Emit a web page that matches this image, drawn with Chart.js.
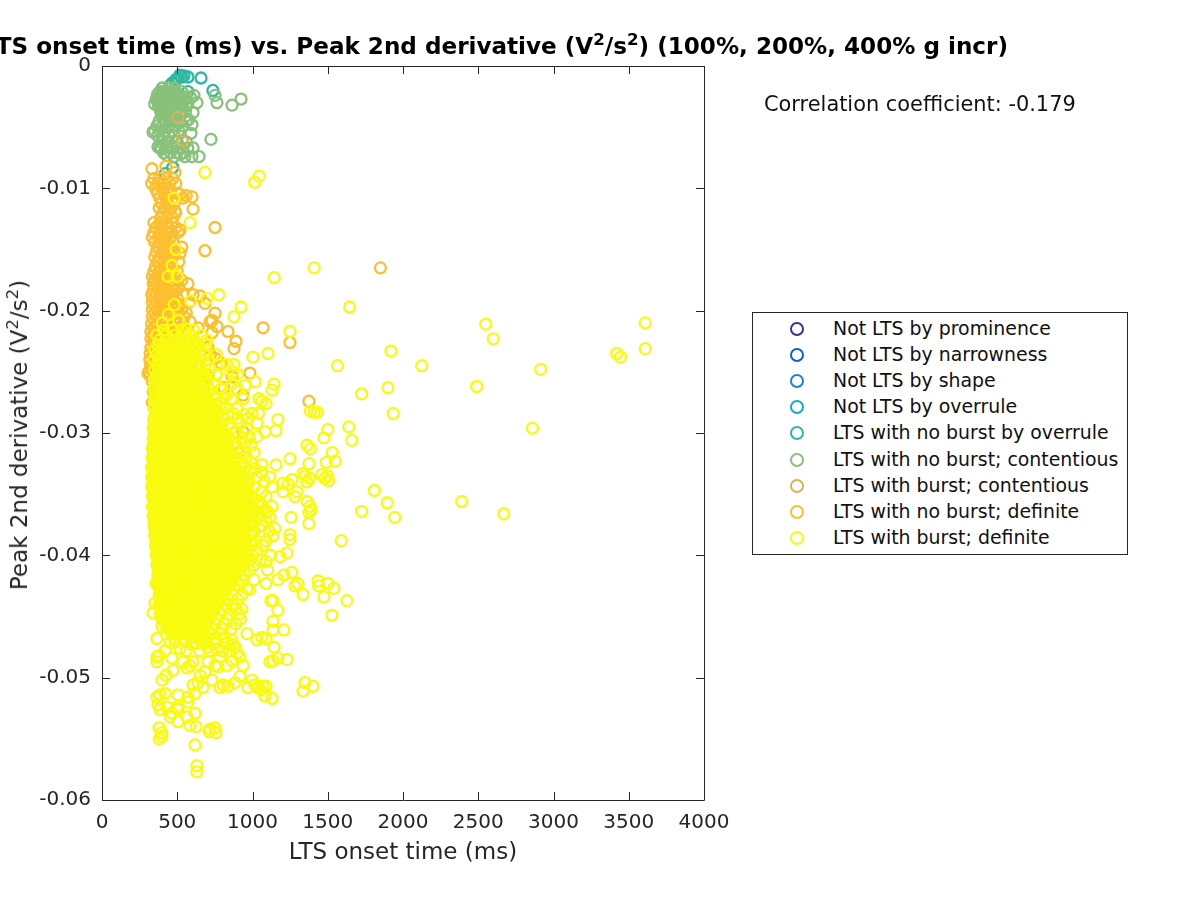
<!DOCTYPE html>
<html><head><meta charset="utf-8">
<script src="https://cdn.jsdelivr.net/npm/chart.js@4"></script>
<style>
html,body{margin:0;padding:0;background:#fff;width:1200px;height:900px;overflow:hidden;font-family:"DejaVu Sans",sans-serif;color:#000}
#wrap{position:relative;width:1200px;height:900px;overflow:hidden}
canvas{position:absolute;left:0;top:0}
.t{position:absolute;white-space:nowrap}
#title{right:192px;top:31px;font-size:23.1px;font-weight:bold;line-height:30px}
#ylab{left:19px;top:435px;font-size:23px;color:#262626;transform:translate(-50%,-50%) rotate(-90deg)}
#corr{left:764px;top:91px;font-size:20.9px;line-height:26px;color:#111}
sup{font-size:72%;line-height:0;vertical-align:baseline;position:relative;top:-0.55em}
#legend{position:absolute;left:752px;top:312px;width:374px;height:241px;border:1px solid #262626;background:#fff}
.row{position:absolute;left:0;height:26px;line-height:26px;font-size:18.9px;color:#111;white-space:nowrap}
.row i{position:absolute;left:37px;top:7px;width:10px;height:10px;border:2px solid;border-radius:50%;box-sizing:content-box}
.row span{position:absolute;left:80px}
</style></head><body>
<div id="wrap">
<canvas id="c" width="1200" height="900" style="width:1200px;height:900px"></canvas>
<div class="t" id="title">LTS onset time (ms) vs. Peak 2nd derivative (V<sup>2</sup>/s<sup>2</sup>) (100%, 200%, 400% g incr)</div>
<div class="t" id="ylab">Peak 2nd derivative (V<sup>2</sup>/s<sup>2</sup>)</div>
<div class="t" id="corr">Correlation coefficient: -0.179</div>
<div id="legend"></div>
</div>
<script>
const categories=["Not LTS by prominence","Not LTS by narrowness","Not LTS by shape","Not LTS by overrule","LTS with no burst by overrule","LTS with no burst; contentious","LTS with burst; contentious","LTS with no burst; definite","LTS with burst; definite"];
const colors=["#3e2f8f","#0a5fdc","#1582dc","#0eaccc","#2db8a5","#88c27a","#d4b35a","#fdbf2f","#f9fb0e"];
const xTickValues=[0,500,1000,1500,2000,2500,3000,3500,4000];
const yTickLabels=["-0.06","-0.05","-0.04","-0.03","-0.02","-0.01","0"];

const noBurstOverrule=[[518,-.00074],[571,-.0009],[658,-.00098],[465,-.0014],[405,-.0021],[571,-.0021],[737,-.002],[492,-.0011],[545,-.0008],[452,-.0016],[505,-.001],[530,-.0009],[420,-.0088],[470,-.0083]];

const contentiousOutliers=[[924,-.0027],[864,-.0032],[764,-.003],[751,-.0024],[724,-.006],[645,-.0074],[611,-.0024],[631,-.003],[605,-.0038],[598,-.0048],[591,-.0055],[605,-.0067],[598,-.0074],[551,-.0074],[339,-.0054],[372,-.0066],[590,-.0026],[560,-.0033],[575,-.0044],[520,-.0072],[480,-.0074],[430,-.0073],[395,-.0068]];
const contentiousRows=[
[-.0018,[400,440,480]],
[-.0021,[385,420,455,490,530]],
[-.0023,[370,395,425,450,480,505]],
[-.0025,[375,400,430,460,490,520,560]],
[-.0027,[360,385,410,435,460,485,510,545]],
[-.0029,[370,395,420,445,470,495,520]],
[-.0031,[350,380,405,430,455,480,505,535,570]],
[-.0033,[375,400,425,450,475,500,530]],
[-.0035,[385,410,435,460,485,510]],
[-.0037,[390,415,440,465,490,520,555]],
[-.004,[395,425,455,490,525]],
[-.0043,[410,445,480]],
[-.0045,[380,420,470,515,560]],
[-.0049,[365,400,445,490,540]],
[-.0053,[350,385,420,465,510]],
[-.0057,[370,405,445,480]],
[-.0062,[395,440,500,560]],
[-.0067,[385,425,470,520,570]],
[-.0071,[410,455,500,545]]];

const burstContentious=[[505,-.0042],[532,-.0061]];

const noBurstOutliers=[[1850,-.0165],[1375,-.0274],[1070,-.0214],[1249,-.0226],[837,-.0217],[890,-.0225],[877,-.0231],[751,-.0202],[764,-.0213],[718,-.0209],[638,-.0214],[585,-.0209],[731,-.0218],[704,-.023],[751,-.0239],[983,-.0251],[864,-.0254],[937,-.0269],[811,-.0263],[937,-.0299],[704,-.0253],[904,-.0316],[332,-.0084],[425,-.0082],[485,-.0087],[598,-.0107],[605,-.0117],[751,-.0132],[684,-.0151],[518,-.0134],[518,-.0105],[485,-.0119],[518,-.0153],[571,-.0178],[651,-.0188],[605,-.0187],[684,-.0194],[731,-.0208],[306,-.0251],[319,-.0253],[560,-.0106],[720,-.0236],[790,-.0243],[640,-.0245],[670,-.0262],[745,-.0281],[690,-.0298],[800,-.0305]];
const noBurstRows=[
[-.0092,[345,385,430,470]],
[-.0096,[330,370,410,450,490]],
[-.0100,[355,395,440]],
[-.0104,[370,410,455,500]],
[-.0108,[385,425,470,540]],
[-.0112,[395,435,480]],
[-.0116,[380,420,460]],
[-.012,[405,445,490]],
[-.0124,[390,430,470]],
[-.0128,[345,385,425,465]],
[-.0132,[360,400,440,490]],
[-.0136,[345,385,425,465,505]],
[-.014,[335,375,415,455]],
[-.0144,[350,390,430,470]],
[-.0148,[375,415,455,530]],
[-.0152,[360,400,440,480]],
[-.0156,[350,385,425,470]],
[-.016,[370,410,450,510]],
[-.0164,[355,390,430,470]],
[-.0168,[345,380,420,460,500]],
[-.0172,[335,365,400,440,490]],
[-.0175,[350,385,420,460,530]],
[-.0178,[340,370,405,445,485]],
[-.0181,[355,390,425,465,510]],
[-.0184,[340,375,410,450,490]],
[-.0187,[330,360,395,435,475,540]],
[-.019,[345,380,420,460,500]],
[-.0193,[335,365,400,440,480,580]],
[-.0196,[350,385,425,465,505]],
[-.0199,[335,370,405,445,490,530]],
[-.0202,[350,385,425,470,510,560]],
[-.0205,[335,370,410,450,495,545]],
[-.0208,[350,390,430,475,520]],
[-.0211,[330,365,410,450,495,540]],
[-.0214,[345,385,425,470,515]],
[-.0217,[325,360,400,440,485]],
[-.022,[340,380,420,465]],
[-.0223,[325,360,405,445,490]],
[-.0226,[340,380,425]],
[-.023,[325,360,400]],
[-.0235,[320,345,375]],
[-.024,[318,340,365]],
[-.0245,[322,345]],
[-.025,[312,340,360]],
[-.0258,[335,360]],
[-.0266,[340,360]],
[-.0275,[335,355]]];

const burstOutliers=[[3610,-.021],[3420,-.0235],[3445,-.0238],[3610,-.0231],[2550,-.0211],[2600,-.0223],[2915,-.0248],[2125,-.0245],[1920,-.0233],[1900,-.0263],[1935,-.0284],[2490,-.0262],[2860,-.0296],[2390,-.0356],[2670,-.0366],[1945,-.0369],[1895,-.0357],[1810,-.0347],[1725,-.0364],[1590,-.0388],[1645,-.0197],[1565,-.0245],[1725,-.0268],[1410,-.0165],[1145,-.0173],[1045,-.009],[1015,-.0095],[1249,-.0217],[1640,-.0295],[1660,-.0306],[1385,-.0282],[1410,-.0283],[1430,-.0283],[1500,-.0297],[1475,-.0304],[1362,-.031],[1385,-.0313],[1530,-.0316],[1490,-.0324],[1550,-.0323],[1375,-.0325],[1249,-.0321],[1156,-.0326],[1460,-.0334],[1500,-.0335],[1505,-.0339],[1480,-.0337],[1380,-.0337],[1350,-.0335],
[618,-.0555],[630,-.0572],[630,-.0577],[380,-.0541],[397,-.0545],[380,-.055],[397,-.0548],[718,-.0542],[750,-.0541],[757,-.0545],[711,-.0544],
[924,-.0197],[877,-.0205],[1103,-.0235],[1003,-.0238],[877,-.0244],[870,-.025],[1017,-.0258],[1143,-.026],[1130,-.0265],[950,-.0261],[1043,-.0272],[1063,-.0274],[1090,-.0276],[1169,-.0289],[1156,-.0298],[1083,-.0299],[1030,-.0303],[990,-.031],[1030,-.0292],[997,-.0284],[950,-.0285],[897,-.028],[837,-.0285],[811,-.0271],[698,-.0224],[618,-.0226],[1063,-.0326],[1116,-.0336],[1017,-.0329],[1262,-.0338],[1203,-.0341],[1236,-.0342],[1203,-.0348],[1296,-.0348],[1282,-.0352],[1336,-.0333],[1362,-.034],[1362,-.0356],[1382,-.036],[1375,-.0365],[1390,-.0363],[1256,-.0369],[1375,-.0374],[1249,-.0383],[1249,-.0387],[1130,-.036],[1116,-.0369],[1149,-.0378],[1136,-.0384],[1090,-.0365],[1050,-.0357],
[1229,-.0398],[1183,-.0401],[1090,-.0405],[1262,-.0414],[1209,-.0416],[1169,-.042],[1090,-.0423],[963,-.0427],[1302,-.0423],[1282,-.0425],[1336,-.0432],[1435,-.0421],[1440,-.0425],[1502,-.0423],[1541,-.0427],[1475,-.0434],[1628,-.0437],[1528,-.0449],[1136,-.0437],[1123,-.0437],[1169,-.0445],[1136,-.0454],[1136,-.0461],[1209,-.0461],[1143,-.0475],[1229,-.0485],[1169,-.0484],[1136,-.0486],[1116,-.0487],[1030,-.0469],[1063,-.0467],[1090,-.0468],[963,-.0464],[1349,-.0504],[1336,-.0511],[1402,-.0507],[1130,-.0517],[1083,-.0515],[1090,-.0507],[970,-.0508],[997,-.0502],[1017,-.0506],[1037,-.0508],[1056,-.051],[1070,-.0507],[884,-.0504],[837,-.0507],[804,-.0506],[784,-.0508],[937,-.049],[917,-.0499],[884,-.0475],[897,-.048],[917,-.0483],[864,-.0486],[830,-.049],[771,-.0491],[751,-.049],[784,-.0483],[764,-.0477],[817,-.0467],[864,-.0469],[870,-.0473],[731,-.0502],[684,-.0495],[704,-.0487],[698,-.0475],[671,-.0469],[638,-.0467],[671,-.0508],[638,-.0504],[605,-.0506],[618,-.0513],[651,-.0498],[585,-.049],[605,-.0487],[565,-.0492],[472,-.0494],[465,-.0484],[538,-.0487],[365,-.0483],[365,-.0487],[379,-.0482],[365,-.0468],[518,-.0476],[485,-.0471],[452,-.0471],[485,-.0468],[598,-.0473],[425,-.0498],[399,-.0502],[419,-.0513],[385,-.0514],[365,-.0516],[505,-.0514],[571,-.0516],[571,-.052],[372,-.0522],[385,-.0526],[432,-.0524],[498,-.0524],[465,-.0529],[452,-.0532],[505,-.0536],[565,-.0532],[618,-.0529],[585,-.0539],[625,-.054],[505,-.0526],[339,-.0447],[352,-.0439],[359,-.0423],[399,-.0458],[478,-.0108],[585,-.0128],[684,-.0087],[492,-.015],[465,-.0163],[439,-.0172],[498,-.0172],[777,-.0187],[698,-.019],[480,-.0195],[590,-.0192],[400,-.021],[510,-.0208],[440,-.0203],[560,-.0215]];
const burstRows=[
[-.0216,[410,470,530,610]],
[-.022,[365,425,490,545,590,660]],
[-.0224,[385,430,470,515,560,610]],
[-.0228,[370,410,455,500,540,590,640,690]],
[-.0232,[350,390,430,470,510,550,600,650]],
[-.0236,[365,400,440,480,525,565,620,680,760]],
[-.024,[345,390,430,470,510,555,600,650,710]],
[-.0244,[365,405,445,490,530,575,625,690,780,830]],
[-.0248,[350,385,425,465,510,550,600,650,720]],
[-.0252,[370,410,450,490,530,570,625,680,760,900]],
[-.0256,[350,390,430,470,510,555,600,650,700,820]],
[-.026,[370,410,450,490,535,580,625,680,740,860]],
[-.0264,[345,385,425,465,510,555,600,650,710,790,900]],
[-.0268,[365,405,445,490,530,575,620,675,740,830]],
[-.0272,[350,385,425,470,510,555,600,650,700,760,860,940]],
[-.0276,[365,405,445,490,530,575,620,665,720,790]],
[-.028,[345,385,425,465,510,555,600,645,690,745,820]],
[-.0284,[365,405,445,490,530,575,620,665,715,770,870,1040]],
[-.0288,[345,385,425,470,510,555,600,645,690,740,800,900,970]],
[-.0292,[365,405,445,490,530,575,620,665,710,760,840,920]],
[-.0296,[340,385,425,465,510,555,600,645,690,735,790,860,960]],
[-.03,[360,400,445,485,530,575,620,665,710,755,810,890]],
[-.0304,[340,380,425,465,505,550,595,640,685,730,780,840,930,980]],
[-.0308,[360,400,445,485,530,570,615,660,705,750,800,870,950]],
[-.0312,[335,380,420,465,505,550,595,640,685,730,775,830,900]],
[-.0316,[355,400,440,485,525,570,615,660,705,750,800,860,930,1010]],
[-.032,[335,375,420,460,505,550,595,640,685,730,775,825,885,960]],
[-.0324,[355,400,440,485,525,570,615,660,705,750,800,855,920,990]],
[-.0328,[330,375,420,460,505,550,590,635,680,725,775,825,880,950]],
[-.0332,[350,395,440,480,525,570,615,660,705,750,800,855,915,985,1060]],
[-.0336,[330,375,415,460,505,545,590,635,680,725,775,825,880,945,1030]],
[-.034,[350,395,440,480,525,570,615,660,705,750,800,850,910,975,1080]],
[-.0344,[330,375,415,460,500,545,590,635,680,725,770,825,880,940,1010,1130]],
[-.0348,[350,395,435,480,525,570,610,655,700,750,795,850,905,970,1060]],
[-.0352,[335,375,415,460,505,545,590,635,680,725,770,825,880,935,1000,1090]],
[-.0356,[355,395,440,480,525,570,610,655,700,750,795,850,905,965,1035]],
[-.036,[335,375,420,460,505,545,590,635,680,725,770,820,875,930,990,1060]],
[-.0364,[355,395,440,480,525,570,610,655,700,745,795,845,900,955,1020,1100]],
[-.0368,[340,380,420,460,505,550,590,635,680,725,770,820,875,925,985,1050]],
[-.0372,[360,400,440,485,525,570,615,660,705,750,795,845,900,950,1015,1090]],
[-.0376,[345,385,425,465,505,550,595,640,680,725,775,820,870,925,980,1060]],
[-.038,[365,405,445,490,530,575,615,660,705,750,795,845,895,950,1010,1110]],
[-.0384,[350,385,425,470,510,555,595,640,685,730,775,820,870,925,985,1050]],
[-.0388,[370,410,450,490,535,575,620,665,710,755,800,850,900,955,1020,1090]],
[-.0392,[355,390,430,470,515,555,600,645,690,735,780,825,880,930,990,1070]],
[-.0396,[375,415,455,495,540,585,625,670,715,760,805,855,905,960,1030]],
[-.04,[360,395,435,475,520,560,605,650,695,740,785,830,880,935,1000,1120]],
[-.0404,[380,420,460,500,545,590,630,675,720,765,810,860,910,970,1050]],
[-.0408,[365,400,440,485,525,570,610,655,700,745,790,835,885,940,1010]],
[-.0412,[385,425,465,505,550,595,635,680,725,770,815,865,915,980,1100]],
[-.0416,[370,405,445,490,530,575,615,660,705,750,795,840,890,950]],
[-.042,[390,430,470,510,555,600,640,685,730,775,820,870,925,1010]],
[-.0424,[375,410,450,495,535,580,625,670,710,755,800,850,905]],
[-.0428,[390,430,475,515,560,600,645,690,735,780,825,880,980]],
[-.0432,[380,415,455,495,540,580,625,670,715,760,805,860,930]],
[-.0436,[395,435,475,520,560,605,650,690,735,780,840,900]],
[-.044,[380,415,455,500,540,585,630,675,720,765,820,870]],
[-.0444,[395,435,480,520,565,610,650,695,745,800,890,930]],
[-.0448,[385,420,460,500,545,590,630,680,730,780,850,910]],
[-.0452,[400,440,480,525,570,615,660,710,760,830,920]],
[-.0456,[420,460,505,550,595,640,690,750,810,890]],
[-.046,[440,485,530,575,625,680,730,800,860]],
[-.0464,[425,470,510,560,610,665,720,790]],
[-.0468,[540,590,645,700,750]],
[-.0472,[625,680,745,830]],
[-.0478,[420,560,650,720,800,850]]];
const burstFillRows=[
[-.023,[395,440,490,530]],
[-.0238,[380,420,460,505,545,590]],
[-.0246,[375,415,460,500,540,590,635]],
[-.0254,[360,400,440,480,520,565,610,655]],
[-.0262,[355,395,440,480,520,565,610,660]],
[-.027,[360,395,435,480,520,565,610,655,700]],
[-.0278,[350,395,435,480,520,565,610,650,695]],
[-.0286,[355,395,435,480,520,565,610,655,700,745]],
[-.029,[345,385,425,470,515,555,600,645,690,730]],
[-.0294,[350,395,435,475,520,565,610,655,695,745]],
[-.0298,[345,385,425,470,515,555,600,645,690,730,775]],
[-.0302,[350,390,435,475,520,565,610,655,695,740,790]],
[-.0306,[345,385,425,470,515,555,600,645,690,730,775,825]],
[-.031,[345,390,430,475,515,560,605,650,695,740,785]],
[-.0314,[340,385,425,470,515,555,600,645,690,735,780,830]],
[-.0318,[345,385,430,470,515,560,605,650,695,740,785,840]],
[-.0322,[340,380,425,470,510,555,600,645,690,735,780,830,880]],
[-.0326,[345,385,430,470,515,560,605,650,695,740,785,835]],
[-.033,[340,385,425,470,510,555,600,645,690,735,785,835,890]],
[-.0334,[340,385,430,470,515,560,605,650,695,740,790,840,900]],
[-.0338,[340,380,425,470,510,555,600,645,690,735,785,835,890]],
[-.0342,[340,385,425,470,515,560,605,650,695,740,790,840,895,960]],
[-.0346,[340,380,425,465,510,555,600,645,690,735,780,835,890,950]],
[-.035,[340,385,425,470,515,560,600,645,690,735,785,835,890,950]],
[-.0354,[345,385,425,470,515,555,600,645,690,735,785,835,890,950,1010]],
[-.0358,[345,385,430,470,515,560,600,645,690,735,785,835,890,950]],
[-.0362,[345,385,430,470,515,555,600,645,690,735,785,835,885,945,1005]],
[-.0366,[345,385,430,470,515,560,600,645,690,735,780,830,885,940,1000]],
[-.037,[350,390,430,475,515,560,605,650,690,735,785,835,885,940]],
[-.0374,[350,390,430,475,515,560,605,650,695,740,785,835,885,935,995]],
[-.0378,[355,395,435,480,520,565,605,650,695,740,785,835,885,940]],
[-.0382,[355,395,435,480,520,565,605,650,695,740,785,835,885,935,995]],
[-.0386,[360,400,440,480,520,565,610,655,700,745,790,835,885,940]],
[-.039,[360,400,440,480,525,570,610,655,700,745,790,840,890,945]],
[-.0394,[365,405,445,485,530,570,615,660,705,750,795,840,890,945]],
[-.0398,[365,405,445,490,530,575,615,660,705,750,795,845,895]],
[-.0402,[370,410,450,490,535,575,620,665,710,755,800,845,895,950]],
[-.0406,[370,410,450,495,535,580,620,665,710,755,800,850,900]],
[-.041,[375,415,455,495,540,585,625,670,715,760,805,850,900]],
[-.0414,[375,415,455,500,540,585,625,670,715,760,805,855]],
[-.0418,[380,420,460,500,545,590,630,675,720,765,810,860]],
[-.0422,[380,420,460,505,545,590,635,680,720,765,810,860]],
[-.0426,[385,420,465,505,550,595,635,680,725,770,815]],
[-.043,[385,425,465,510,550,595,635,680,725,770,815]],
[-.0434,[390,425,465,510,550,595,640,680,725,770]],
[-.0438,[390,430,470,510,555,600,640,685,730,775]],
[-.0442,[390,430,470,515,555,600,640,685,730]],
[-.0446,[395,435,475,515,560,600,645,690,735]],
[-.045,[410,450,490,535,580,625,670,715]],
[-.0454,[430,475,520,565,610,655,700]],
[-.0458,[445,490,535,580,630,680]],
[-.0462,[460,510,555,605,660,705]]];

function expand(rows){const out=[];for(const [y,xs] of rows)for(const x of xs)out.push({x,y});return out;}
function pts(list){return list.map(([x,y])=>({x,y}));}
const seriesData=[[],[],[],[],pts(noBurstOverrule),pts(contentiousOutliers).concat(expand(contentiousRows)),pts(burstContentious),pts(noBurstOutliers).concat(expand(noBurstRows)),pts(burstOutliers).concat(expand(burstRows),expand(burstFillRows))];

const legendEl=document.getElementById('legend');
categories.forEach((n,i)=>{const r=document.createElement('div');r.className='row';r.style.top=(2+i*26.1)+'px';r.innerHTML='<i style="border-color:'+colors[i]+'"></i><span>'+n+'</span>';legendEl.appendChild(r);});

const frame={id:'frame',afterDatasetsDraw(ch){const {ctx,chartArea:a,scales:{x,y}}=ch;ctx.save();ctx.strokeStyle='#262626';ctx.lineWidth=1;ctx.beginPath();
ctx.rect(a.left+.5,a.top+.5,a.right-a.left,a.bottom-a.top);
x.ticks.forEach(t=>{const p=Math.round(x.getPixelForValue(t.value))+.5;ctx.moveTo(p,a.bottom);ctx.lineTo(p,a.bottom-8);ctx.moveTo(p,a.top);ctx.lineTo(p,a.top+8);});
y.ticks.forEach(t=>{const p=Math.round(y.getPixelForValue(t.value))+.5;ctx.moveTo(a.left,p);ctx.lineTo(a.left+8,p);ctx.moveTo(a.right,p);ctx.lineTo(a.right-8,p);});
ctx.stroke();ctx.restore();}};

new Chart(document.getElementById('c'),{type:'scatter',plugins:[frame],
data:{datasets:categories.map((n,i)=>({label:n,data:seriesData[i],order:9-i,pointStyle:'circle',pointRadius:5.5,pointHoverRadius:5.5,pointBorderWidth:2.3,borderColor:colors[i],pointBorderColor:colors[i],backgroundColor:'transparent',pointBackgroundColor:'transparent',showLine:false}))},
options:{responsive:false,animation:false,devicePixelRatio:1,
layout:{padding:{left:0,top:66,right:496,bottom:33}},
plugins:{legend:{display:false},title:{display:false},tooltip:{enabled:false}},
scales:{
x:{type:'linear',min:0,max:4000,afterFit(s){s.height=67;},afterBuildTicks(s){s.ticks=xTickValues.map(value=>({value}));},
grid:{display:false},border:{display:false},
ticks:{padding:3,maxRotation:0,color:'#262626',font:{family:'"DejaVu Sans"',size:20},callback:v=>String(v)},
title:{display:true,text:'LTS onset time (ms)',color:'#262626',padding:{top:0,bottom:0},font:{family:'"DejaVu Sans"',size:23,weight:'normal'}}},
y:{type:'linear',min:-.06,max:0,afterFit(s){s.width=102;},afterBuildTicks(s){s.ticks=yTickLabels.map(l=>({value:+l}));},
grid:{display:false},border:{display:false},
ticks:{padding:3,color:'#262626',font:{family:'"DejaVu Sans"',size:20},callback:v=>yTickLabels.find(l=>Math.abs(+l-v)<1e-6)||''}}
}}});
</script>
</body></html>
